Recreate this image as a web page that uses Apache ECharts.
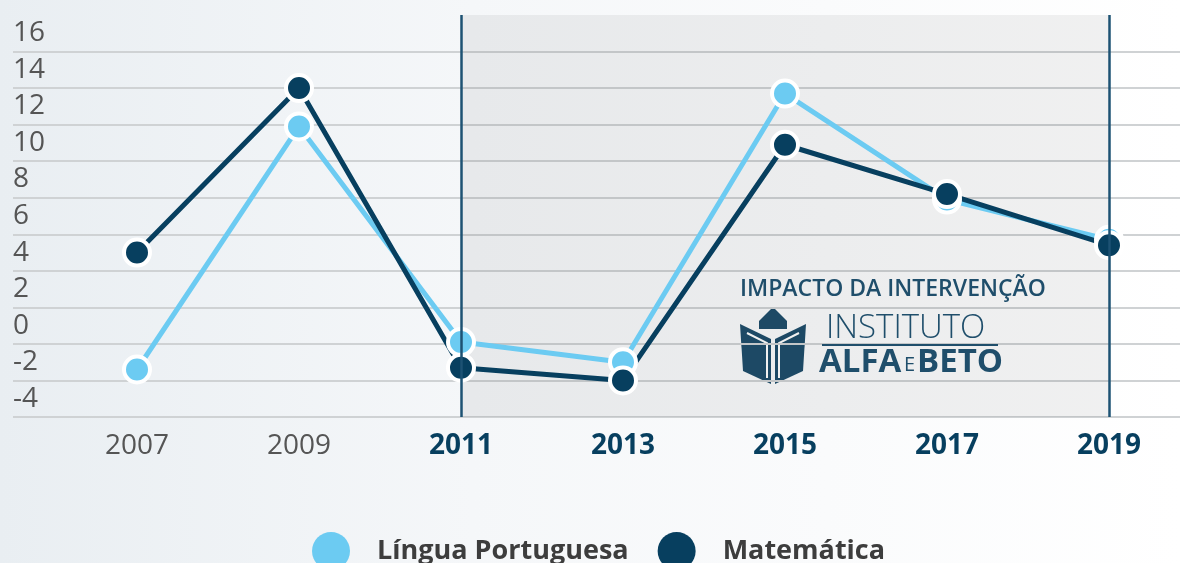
<!DOCTYPE html>
<html>
<head>
<meta charset="utf-8">
<script src="https://cdn.jsdelivr.net/npm/echarts@6/dist/echarts.min.js"></script>
<style>
  body { margin: 0; }
  #main { width: 1180px; height: 563px; }
</style>
</head>
<body>
<div id="main"></div>
<script>
// 資料
var years = ['2007', '2009', '2011', '2013', '2015', '2017', '2019'];
var linguaPortuguesa = [-2.4, 10.9, -0.9, -2.0, 12.7, 6.9, 4.7];
var matematica = [4.0, 13.0, -2.3, -3.0, 9.9, 7.2, 4.4];
var yTicks = [-4, -2, 0, 2, 4, 6, 8, 10, 12, 14, 16];
var intervention = ['2011', '2019'];

var darkBlue = '#073f5f';
var lightBlue = '#6ccbf2';
var logoBlue = '#1f4e6b';
var fontFamily = '"Open Sans", sans-serif';

var chart = echarts.init(document.getElementById('main'));

var option = {
    backgroundColor: new echarts.graphic.LinearGradient(0, 0, 1, 0, [
        { offset: 0, color: '#e9eef2' },
        { offset: 0.4, color: '#f5f7f9' },
        { offset: 1, color: '#ffffff' }
    ]),
    animation: false,
    textStyle: { fontFamily: fontFamily },
    grid: [
        // 背景格線
        { left: 13, right: 0, top: 15, bottom: 146 },
        // 資料
        { left: 137, right: 71, top: 15, bottom: 146 }
    ],
    legend: {
        data: ['Língua Portuguesa', 'Matemática'],
        left: 307,
        top: 527,
        icon: 'circle',
        itemWidth: 38,
        itemHeight: 38,
        itemGap: 29,
        itemStyle: { borderWidth: 0 },
        textStyle: {
            color: '#3d3d3d',
            fontSize: 27,
            fontWeight: 'bold',
            padding: [0, 0, 0, 22]
        }
    },
    xAxis: [
        { gridIndex: 0, type: 'value', show: false, min: 0, max: 1 },
        {
            gridIndex: 1,
            type: 'category',
            data: years,
            boundaryGap: false,
            axisLine: { show: false },
            axisTick: { show: false },
            axisLabel: {
                margin: 15,
                formatter: function (v) {
                    return (+v >= +intervention[0] ? '{b|' : '{n|') + v + '}';
                },
                rich: {
                    n: { fontSize: 28, color: '#555555', fontFamily: fontFamily },
                    b: { fontSize: 28, color: darkBlue, fontWeight: 'bold', fontFamily: fontFamily }
                }
            }
        }
    ],
    yAxis: [
        {
            // 格線
            gridIndex: 0,
            type: 'value',
            position: 'left',
            min: -5,
            max: 17,
            interval: 2,
            axisLine: { show: false },
            axisTick: { show: false },
            axisLabel: { show: false },
            splitLine: {
                showMaxLine: false,
                lineStyle: { color: '#cfd2d4', width: 2 }
            }
        },
        {
            // 刻度文字
            gridIndex: 0,
            type: 'value',
            position: 'left',
            min: -5,
            max: 17,
            interval: 1,
            axisLine: { show: false },
            axisTick: { show: false },
            splitLine: { show: false },
            axisLabel: {
                inside: true,
                margin: 0,
                fontSize: 28,
                color: '#555555',
                formatter: function (v) {
                    return yTicks.indexOf(v) >= 0 ? String(v) : '';
                }
            }
        },
        {
            gridIndex: 1,
            type: 'value',
            min: -5,
            max: 17,
            show: false
        }
    ],
    graphic: [
        {
            type: 'text', left: 740, top: 278, z: 10,
            style: { text: 'IMPACTO DA INTERVENÇÃO', font: '600 23px "Open Sans"', fill: logoBlue }
        },
        {
            type: 'group', z: 10,
            children: [
                { type: 'polygon', shape: { points: [[773, 307], [787, 321], [787, 329], [759, 329], [759, 321]] }, style: { fill: logoBlue } },
                { type: 'polygon', shape: { points: [[740, 324], [771, 339], [771, 384], [743, 371]] }, style: { fill: logoBlue } },
                { type: 'polygon', shape: { points: [[806, 324], [775, 339], [775, 384], [803, 371]] }, style: { fill: logoBlue } },
                { type: 'polyline', shape: { points: [[747, 333], [767, 343], [767, 378]] }, style: { stroke: '#ffffff', lineWidth: 2, fill: null } },
                { type: 'polyline', shape: { points: [[799, 333], [779, 343], [779, 378]] }, style: { stroke: '#ffffff', lineWidth: 2, fill: null } }
            ]
        },
        {
            type: 'text', left: 826, top: 312, z: 10,
            style: { text: 'INSTITUTO', font: '300 33px "Open Sans"', fill: logoBlue }
        },
        {
            type: 'line', z: 10,
            shape: { x1: 822, y1: 345, x2: 998, y2: 345 },
            style: { stroke: logoBlue, lineWidth: 2 }
        },
        {
            type: 'text', left: 819, top: 346, z: 10,
            style: { text: 'ALFA', font: 'bold 33px "Open Sans"', fill: logoBlue }
        },
        {
            type: 'text', left: 904, top: 355, z: 10,
            style: { text: 'E', font: '400 20px "Open Sans"', fill: logoBlue }
        },
        {
            type: 'text', left: 917, top: 346, z: 10,
            style: { text: 'BETO', font: 'bold 33px "Open Sans"', fill: logoBlue }
        }
    ],
    series: [
        {
            name: 'Língua Portuguesa',
            type: 'line',
            xAxisIndex: 1,
            yAxisIndex: 2,
            data: linguaPortuguesa,
            symbol: 'circle',
            symbolSize: 26,
            lineStyle: { color: lightBlue, width: 5 },
            itemStyle: { color: lightBlue, borderColor: '#ffffff', borderWidth: 4 },
            markArea: {
                silent: true,
                itemStyle: { color: 'rgba(0, 0, 0, 0.055)' },
                data: [[{ xAxis: intervention[0] }, { xAxis: intervention[1] }]]
            },
            markLine: {
                silent: true,
                symbol: 'none',
                label: { show: false },
                lineStyle: { color: '#1d5273', width: 2.5, type: 'solid' },
                data: [{ xAxis: intervention[0] }, { xAxis: intervention[1] }]
            }
        },
        {
            name: 'Matemática',
            type: 'line',
            xAxisIndex: 1,
            yAxisIndex: 2,
            data: matematica,
            symbol: 'circle',
            symbolSize: 26,
            lineStyle: { color: darkBlue, width: 5 },
            itemStyle: { color: darkBlue, borderColor: '#ffffff', borderWidth: 4 }
        }
    ]
};

chart.setOption(option);
</script>
</body>
</html>
